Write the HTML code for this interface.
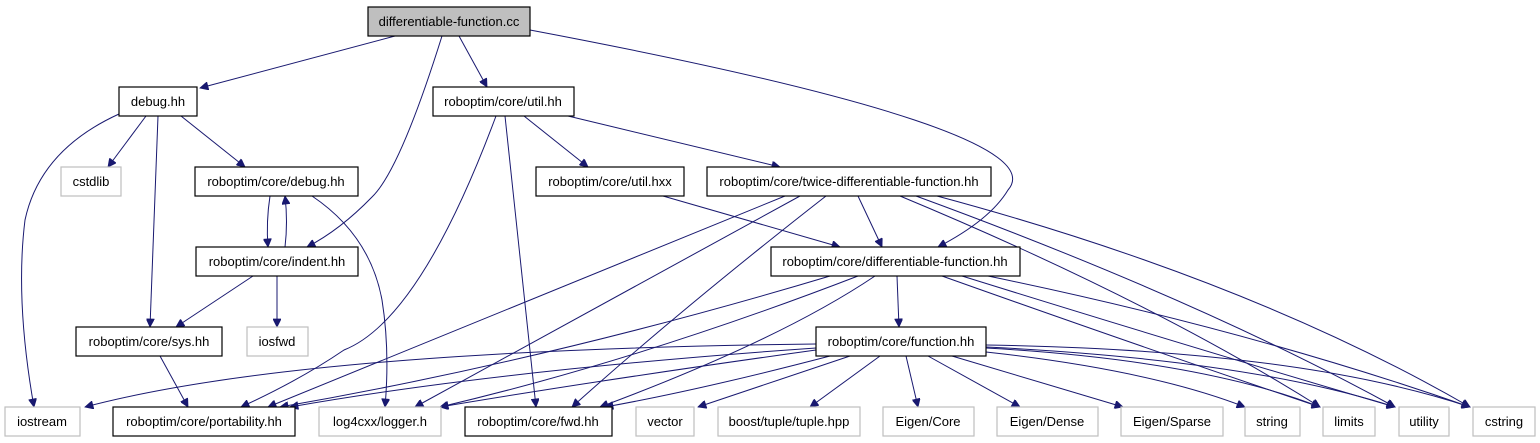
<!DOCTYPE html>
<html><head><meta charset="utf-8"><style>
html,body{margin:0;padding:0;background:#fff;}
svg{display:block;}
text{font-family:"Liberation Sans",Arial,sans-serif;font-size:13px;fill:#000;text-anchor:middle;}
.b{fill:#fff;stroke:#000;stroke-width:1.2;}
.g{fill:#fff;stroke:#bfbfbf;stroke-width:1.2;}
.e{fill:none;stroke:#191970;stroke-width:1;marker-end:url(#a);}
</style></head><body>
<svg width="1540" height="443" viewBox="0 0 1540 443" xmlns="http://www.w3.org/2000/svg">
<defs><marker id="a" viewBox="0 0 10 10" refX="10" refY="5" markerWidth="11" markerHeight="8" markerUnits="userSpaceOnUse" orient="auto"><path d="M0,0 L10,5 L0,10 z" fill="#191970" stroke="#191970"/></marker></defs>

<path class="e" d="M395,36 L200,88"/>
<path class="e" d="M442,36 Q400,170 372,197 Q340,230 307,247"/>
<path class="e" d="M459,36 L487,87"/>
<path class="e" d="M530,30 Q1060,130 1008,190 Q990,220 938,247"/>
<path class="e" d="M119,114 Q40,150 25,220 Q15,300 34,407"/>
<path class="e" d="M146,116 L108,167"/>
<path class="e" d="M158,116 L150,327"/>
<path class="e" d="M181,116 L245,167"/>
<path class="e" d="M270,196 Q266,222 268,247"/>
<path class="e" d="M285,247 Q288,222 285,196"/>
<path class="e" d="M312,196 Q370,235 382,300 Q390,350 385,407"/>
<path class="e" d="M253,276 L176,327"/>
<path class="e" d="M277,276 L277,327"/>
<path class="e" d="M160,356 L188,407"/>
<path class="e" d="M496,116 Q420,320 344,350 Q300,380 241,407"/>
<path class="e" d="M505,116 L536,407"/>
<path class="e" d="M524,116 L588,167"/>
<path class="e" d="M568,116 L780,167"/>
<path class="e" d="M663,196 L840,247"/>
<path class="e" d="M858,196 L882,247"/>
<path class="e" d="M785,196 L268,407"/>
<path class="e" d="M800,196 L415,407"/>
<path class="e" d="M826,196 Q680,310 572,407"/>
<path class="e" d="M900,196 Q1150,300 1320,407"/>
<path class="e" d="M916,196 Q1200,300 1395,407"/>
<path class="e" d="M937,196 Q1250,280 1470,407"/>
<path class="e" d="M830,276 Q550,360 280,407"/>
<path class="e" d="M858,276 Q640,360 440,407"/>
<path class="e" d="M875,276 Q780,340 600,407"/>
<path class="e" d="M897,276 L899,327"/>
<path class="e" d="M942,276 Q1150,350 1320,407"/>
<path class="e" d="M962,276 Q1200,350 1395,407"/>
<path class="e" d="M988,276 Q1250,330 1470,407"/>
<path class="e" d="M816,344 Q300,350 85,407"/>
<path class="e" d="M816,348 Q500,370 290,407"/>
<path class="e" d="M816,350 Q600,380 440,407"/>
<path class="e" d="M830,356 Q700,390 605,407"/>
<path class="e" d="M850,356 L698,407"/>
<path class="e" d="M880,356 L810,407"/>
<path class="e" d="M906,356 L918,407"/>
<path class="e" d="M928,356 L1020,407"/>
<path class="e" d="M952,356 L1123,407"/>
<path class="e" d="M986,352 Q1150,370 1245,407"/>
<path class="e" d="M986,348 Q1200,360 1320,407"/>
<path class="e" d="M986,347 Q1250,360 1395,407"/>
<path class="e" d="M986,345 Q1300,350 1470,407"/>

<rect x="368" y="7" width="162" height="29" fill="#bfbfbf" stroke="#000" stroke-width="1.2"/><text x="449" y="26">differentiable-function.cc</text>
<rect class="b" x="119" y="87" width="78" height="29"/><text x="158" y="106">debug.hh</text>
<rect class="b" x="433" y="87" width="141" height="29"/><text x="503" y="106">roboptim/core/util.hh</text>
<rect class="g" x="61" y="167" width="60" height="29"/><text x="91" y="186">cstdlib</text>
<rect class="b" x="195" y="167" width="163" height="29"/><text x="276" y="186">roboptim/core/debug.hh</text>
<rect class="b" x="536" y="167" width="148" height="29"/><text x="610" y="186">roboptim/core/util.hxx</text>
<rect class="b" x="707" y="167" width="284" height="29"/><text x="849" y="186">roboptim/core/twice-differentiable-function.hh</text>
<rect class="b" x="196" y="247" width="162" height="29"/><text x="277" y="266">roboptim/core/indent.hh</text>
<rect class="b" x="771" y="247" width="249" height="29"/><text x="895" y="266">roboptim/core/differentiable-function.hh</text>
<rect class="b" x="76" y="327" width="146" height="29"/><text x="149" y="346">roboptim/core/sys.hh</text>
<rect class="g" x="247" y="327" width="61" height="29"/><text x="277" y="346">iosfwd</text>
<rect class="b" x="816" y="327" width="170" height="29"/><text x="901" y="346">roboptim/core/function.hh</text>
<rect class="g" x="5" y="407" width="75" height="29"/><text x="42" y="426">iostream</text>
<rect class="b" x="113" y="407" width="182" height="29"/><text x="204" y="426">roboptim/core/portability.hh</text>
<rect class="g" x="319" y="407" width="122" height="29"/><text x="380" y="426">log4cxx/logger.h</text>
<rect class="b" x="465" y="407" width="147" height="29"/><text x="538" y="426">roboptim/core/fwd.hh</text>
<rect class="g" x="636" y="407" width="58" height="29"/><text x="665" y="426">vector</text>
<rect class="g" x="718" y="407" width="142" height="29"/><text x="789" y="426">boost/tuple/tuple.hpp</text>
<rect class="g" x="883" y="407" width="91" height="29"/><text x="928" y="426">Eigen/Core</text>
<rect class="g" x="997" y="407" width="101" height="29"/><text x="1047" y="426">Eigen/Dense</text>
<rect class="g" x="1121" y="407" width="102" height="29"/><text x="1172" y="426">Eigen/Sparse</text>
<rect class="g" x="1245" y="407" width="55" height="29"/><text x="1272" y="426">string</text>
<rect class="g" x="1323" y="407" width="52" height="29"/><text x="1349" y="426">limits</text>
<rect class="g" x="1399" y="407" width="50" height="29"/><text x="1424" y="426">utility</text>
<rect class="g" x="1473" y="407" width="62" height="29"/><text x="1504" y="426">cstring</text>
</svg>
</body></html>
